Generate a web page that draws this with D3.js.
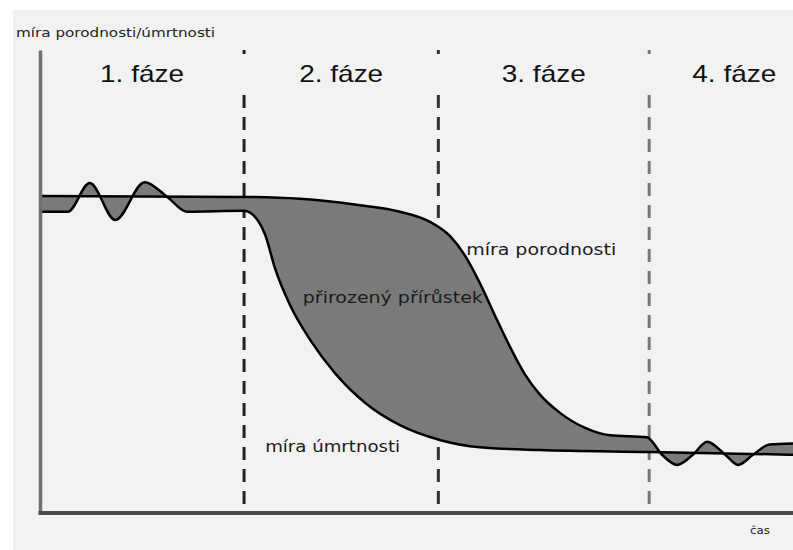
<!DOCTYPE html>
<html>
<head>
<meta charset="utf-8">
<script src="https://cdn.jsdelivr.net/npm/d3@7"></script>
<style>
  html, body { margin: 0; padding: 0; background: #fff; }
  svg { display: block; }
</style>
</head>
<body>
<div id="chart"></div>
<script>
// phases of the demographic transition
const phaseNames = ['1. fáze', '2. fáze', '3. fáze', '4. fáze'];
const phaseBounds = [27.1, 52.9, 80.9]; // time where the dashed borders are

// birth rate (per 1000) over time (0-100)
const birthTime = [0, 27.1, 34.5, 42.5, 47.8, 51.8, 54.4, 56.4, 58.4, 60.4, 62.4, 64.4, 66.4,
                   69.1, 72.4, 75.7, 80.6, 82.6, 84.6, 86.7, 88.6, 91.0, 92.7, 94.7, 96.9, 100];
const birthRate = [34.2, 34.1, 33.9, 33.2, 32.5, 31.4, 29.9, 27.8, 24.8, 21.3, 17.9, 14.9, 12.7,
                   10.7, 9.1, 8.3, 8.1, 6.2, 5.1, 6.2, 7.6, 6.2, 5.1, 6.2, 7.3, 7.4];

// death rate (per 1000) over time
const deathTime = [0, 3.7, 6.6, 10.0, 13.9, 16.9, 19.5, 27.1, 28.7, 29.9, 31.2, 33.2, 35.9,
                   39.2, 43.2, 47.8, 53.1, 58.4, 66.4, 80.9, 100];
const deathRate = [32.5, 32.5, 35.6, 31.6, 35.7, 34.1, 32.5, 32.6, 31.8, 30.0, 26.4, 22.4, 18.6,
                   15.0, 11.8, 9.4, 7.8, 7.0, 6.7, 6.5, 6.2];

// curve labels
const labels = [
  {text: 'míra porodnosti', t: 56.6, v: 27.8, len: 150},
  {text: 'přirozený přírůstek', t: 34.9, v: 22.6, len: 180},
  {text: 'míra úmrtnosti', t: 29.9, v: 6.5, len: 135}
];

const width = 793, height = 550;
const svg = d3.select('#chart').append('svg')
  .attr('width', width)
  .attr('height', height);

svg.append('rect')
  .attr('x', 13).attr('y', 10)
  .attr('width', width - 13).attr('height', height - 10)
  .attr('fill', '#f2f2f2');

const x = d3.scaleLinear().domain([0, 100]).range([40, 793]);
const y = d3.scaleLinear().domain([0, 50]).range([512, 50]);
const xEnd = 103.5; // last phase runs past the picture edge

// dashed phase borders
const dashColor = ['#222', '#333', '#777'];
const borders = svg.append('g');
phaseBounds.forEach((b, i) => {
  borders.append('line')
    .attr('x1', x(b)).attr('x2', x(b))
    .attr('y1', y(50)).attr('y2', y(50) + 4)
    .attr('stroke', dashColor[i]).attr('stroke-width', 3);
  borders.append('line')
    .attr('x1', x(b)).attr('x2', x(b))
    .attr('y1', 95).attr('y2', 506)
    .attr('stroke', dashColor[i]).attr('stroke-width', 3)
    .attr('stroke-dasharray', '13,9');
});

// phase titles
const edges = [0, ...phaseBounds, xEnd];
svg.append('g').selectAll('text')
  .data(phaseNames)
  .enter()
  .append('text')
  .text(d => d)
  .attr('x', (d, i) => (x(edges[i]) + x(edges[i + 1])) / 2 - 42)
  .attr('y', 82)
  .attr('textLength', 84)
  .attr('lengthAdjust', 'spacingAndGlyphs')
  .style('font-family', '"Liberation Sans", Arial, sans-serif')
  .style('font-size', '24px')
  .style('fill', '#111');

// area between the two rates
const birthPts = d3.zip(birthTime, birthRate);
const deathPts = d3.zip(deathTime, deathRate);
const line = d3.line()
  .x(d => x(d[0]))
  .y(d => y(d[1]))
  .curve(d3.curveMonotoneX);

const gapPath = line(birthPts) + 'L' + line(deathPts.slice().reverse()).slice(1) + 'Z';
svg.append('path')
  .attr('d', gapPath)
  .attr('fill', '#7a7a7a');

svg.append('path')
  .attr('d', line(deathPts))
  .attr('fill', 'none')
  .attr('stroke', '#000')
  .attr('stroke-width', 2.5);

svg.append('path')
  .attr('d', line(birthPts))
  .attr('fill', 'none')
  .attr('stroke', '#000')
  .attr('stroke-width', 2.5);

// axes
svg.append('g')
  .attr('class', 'axis')
  .attr('transform', 'translate(' + x(0) + ',0)')
  .call(d3.axisLeft(y).ticks(0).tickSizeOuter(0))
  .select('.domain')
  .attr('stroke', '#707070')
  .attr('stroke-width', 3.5);

svg.append('g')
  .attr('class', 'axis')
  .attr('transform', 'translate(0,' + (y(0) + 0.5) + ')')
  .call(d3.axisBottom(x).ticks(0).tickSizeOuter(0))
  .select('.domain')
  .attr('stroke', '#4a4a4a')
  .attr('stroke-width', 4)
  .attr('stroke-linecap', 'square');

svg.append('text')
  .text('míra porodnosti/úmrtnosti')
  .attr('x', 16)
  .attr('y', 37)
  .attr('textLength', 199)
  .attr('lengthAdjust', 'spacingAndGlyphs')
  .style('font-family', '"DejaVu Sans", sans-serif')
  .style('font-size', '12.5px')
  .style('fill', '#222');

svg.append('text')
  .text('čas')
  .attr('x', 750)
  .attr('y', 534)
  .attr('textLength', 20)
  .attr('lengthAdjust', 'spacingAndGlyphs')
  .style('font-family', '"DejaVu Sans", sans-serif')
  .style('font-size', '11px')
  .style('fill', '#222');

svg.append('g').selectAll('text')
  .data(labels)
  .enter()
  .append('text')
  .text(d => d.text)
  .attr('x', d => x(d.t))
  .attr('y', d => y(d.v))
  .attr('textLength', d => d.len)
  .attr('lengthAdjust', 'spacingAndGlyphs')
  .style('font-family', '"DejaVu Sans", sans-serif')
  .style('font-size', '16px')
  .style('fill', '#1a1a1a');
</script>
</body>
</html>
